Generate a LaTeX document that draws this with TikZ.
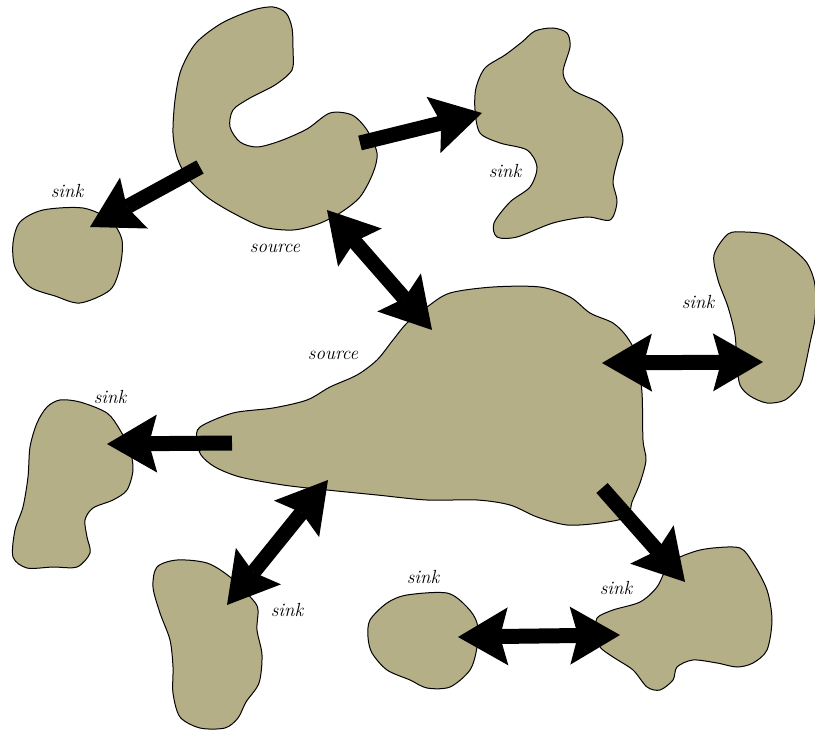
\documentclass[tikz,border=0pt]{standalone}
\usetikzlibrary{arrows.meta}
\definecolor{blobtan}{RGB}{180,175,135}

\begin{document}
\begin{tikzpicture}[x=1pt,y=-1pt,
  >={Stealth[length=50pt,width=58pt,inset=8pt,line width=0pt]},
  blob/.style={draw=black,fill=blobtan,line width=1pt},
  flow/.style={->,line width=15pt},
  bothway/.style={<->,line width=15pt},
  tag/.style={font=\fontsize{19}{22}\selectfont\itshape,inner sep=0pt}]

\useasboundingbox (0,0) rectangle (815,730);

% regions
\draw[blob] plot[smooth cycle] coordinates {(273,7) (286,13) (292,28) (293,50) (292,70)
  (275,85) (250,98) (233,110) (230,127) (240,142) (257,147) (280,141) (307,129) (330,113)
  (352,115) (367,130) (377,153) (373,173) (360,197) (340,213) (318,224) (293,230)
  (263,227) (233,213) (207,197) (187,177) (177,157) (173,133) (175,100) (181,70)
  (196,43) (222,23) (253,10)};
\draw[blob] plot[smooth cycle] coordinates {(20,222) (43,210) (83,208) (110,220)
  (122,240) (120,267) (110,290) (80,303) (55,296) (30,287) (15,267) (13,243)};
\draw[blob] plot[smooth cycle] coordinates {(553,28) (567,33) (570,47) (563,73)
  (573,90) (600,103) (617,120) (623,140) (617,162) (613,182) (617,202) (610,220)
  (587,217) (553,223) (517,237) (497,237) (494,223) (510,202) (530,187) (537,167)
  (527,150) (500,143) (480,133) (475,110) (476,88) (485,68) (505,55)
  (522,42) (535,31)};
\draw[blob] plot[smooth cycle] coordinates {(728,234) (745,232) (770,235) (790,247)
  (807,263) (815,285) (815,318) (810,343) (805,367) (800,385) (785,400)
  (767,403) (750,396) (740,385) (737,365) (735,335) (728,307) (718,280)
  (714,255)};
\draw[blob] plot[smooth cycle] coordinates {(200,427) (233,413) (273,408) (307,400)
  (330,387) (357,375) (377,360) (393,340) (407,323) (427,307) (450,293) (493,287)
  (540,287) (570,297) (590,313) (613,323) (627,337) (637,357) (642,393) (643,440)
  (646,460) (640,483) (632,502) (627,517) (600,523) (567,525) (537,517) (510,505)
  (477,500) (427,500) (377,495) (327,490) (283,485) (240,477) (215,467) (201,455)
  (197,440)};
\draw[blob] plot[smooth cycle] coordinates {(60,400) (80,402) (107,413) (120,430)
  (130,450) (133,470) (127,490) (113,500) (93,508) (85,520) (87,537) (90,553)
  (77,567) (53,567) (27,568) (13,557) (15,530) (23,507) (28,477) (30,447) (37,423)
  (47,407)};
\draw[blob] plot[smooth cycle] coordinates {(157,567) (177,560) (207,563) (230,577)
  (253,600) (258,610) (257,630) (262,655) (259,683) (246,702) (238,718) (225,728)
  (200,728) (180,717) (173,693) (173,667) (170,640) (160,613) (153,587)};
\draw[blob] plot[smooth cycle] coordinates {(370,620) (387,603) (407,595) (447,593)
  (467,607) (477,623) (477,647) (470,670) (450,687) (427,688) (410,680) (387,670)
  (372,653) (368,637)};
\draw[blob] plot[smooth cycle] coordinates {(597,618) (613,610) (640,602) (657,587)
  (670,563) (693,552) (713,548) (740,548) (753,563) (767,590) (772,620) (767,650)
  (753,663) (737,667) (717,663) (693,660) (677,667) (673,680) (660,690) (647,687)
  (633,670) (613,657) (600,647) (597,633)};

% arrow ends
\coordinate (hookW) at (200,167);
\coordinate (nookE) at (90,227);
\coordinate (hookE) at (360,143);
\coordinate (crabW) at (482,113);
\coordinate (hookS) at (327,210);
\coordinate (bodyN) at (432,330);
\coordinate (bodyW) at (232,443);
\coordinate (westE) at (107,444);
\coordinate (bodySW) at (328,480);
\coordinate (footN) at (227,605);
\coordinate (bodyE) at (602,363);
\coordinate (eastW) at (763,362);
\coordinate (bodySE) at (602,488);
\coordinate (duckN) at (685,582);
\coordinate (pebE) at (458,637);
\coordinate (duckW) at (620,635);

\draw[flow] (hookW) -- (nookE);
\draw[flow] (hookE) -- (crabW);
\draw[bothway] (hookS) -- (bodyN);
\draw[flow] (bodyW) -- (westE);
\draw[bothway] (bodySW) -- (footN);
\draw[bothway] (bodyE) -- (eastW);
\draw[flow] (bodySE) -- (duckN);
\draw[bothway] (pebE) -- (duckW);

% labels
\node[tag] (srcTop) at (275,248) {source};
\node[tag] (srcMid) at (333,355) {source};
\node[tag] (snkNook) at (67,191) {sink};
\node[tag] (snkCrab) at (505,171) {sink};
\node[tag] (snkEast) at (698,302) {sink};
\node[tag] (snkWest) at (110,397) {sink};
\node[tag] (snkFoot) at (287,610) {sink};
\node[tag] (snkPeb) at (423,577) {sink};
\node[tag] (snkDuck) at (616,588) {sink};

\end{tikzpicture}
\end{document}
